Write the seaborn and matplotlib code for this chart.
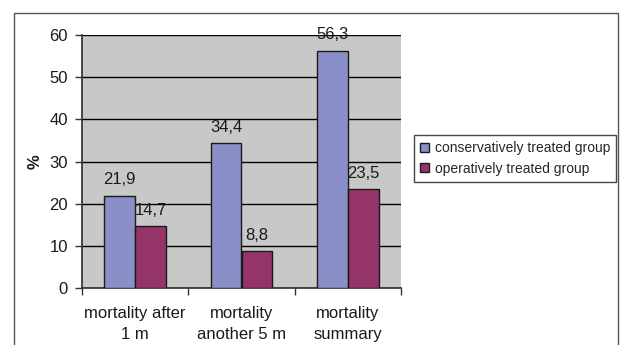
import matplotlib
matplotlib.use("Agg")
import matplotlib.pyplot as plt
from matplotlib.patches import Rectangle
import seaborn as sns
import pandas as pd

categories = ["mortality after\n1 m", "mortality\nanother 5 m", "mortality\nsummary"]
groups = ["conservatively treated group", "operatively treated group"]
conservative = [21.9, 34.4, 56.3]
operative = [14.7, 8.8, 23.5]
y_ticks = [0, 10, 20, 30, 40, 50, 60]

df = pd.DataFrame({
    "category": categories * 2,
    "group": [groups[0]] * 3 + [groups[1]] * 3,
    "value": conservative + operative,
})

sns.set_theme(style="white")
plt.rcParams["font.family"] = ["Liberation Sans", "DejaVu Sans"]

W, H = 627, 345
fig = plt.figure(figsize=(W / 100, H / 100), dpi=100)
ax = fig.add_axes([82 / W, 1 - 288 / H, (401 - 82) / W, (288 - 35) / H])

palette = {groups[0]: "#8A8FC8", groups[1]: "#943468"}
sns.barplot(data=df, x="category", y="value", hue="group", palette=palette,
            width=0.58, gap=0, edgecolor="#1a1a1a", linewidth=1.0,
            saturation=1, ax=ax, zorder=3)

ax.set_facecolor("#C8C8C8")
ax.set_ylim(0, 60)
ax.set_xlim(-0.5, 2.5)
ax.set_yticks(y_ticks)
ax.yaxis.grid(True, color="black", linewidth=1.0, zorder=1)
ax.set_axisbelow(True)
for s in ["top", "right"]:
    ax.spines[s].set_visible(False)
ax.spines["left"].set_color("#333333")
ax.spines["bottom"].set_color("#333333")

ax.tick_params(axis="y", left=True, length=5, width=1, color="#333333",
               labelsize=12, labelcolor="#1a1a1a", pad=5)
ax.set_xticks([0, 1, 2])
ax.set_xticklabels(categories, fontsize=12, color="#1a1a1a", linespacing=1.5)
ax.tick_params(axis="x", bottom=False, pad=7)
ax.set_xticks([-0.5, 0.5, 1.5, 2.5], minor=True)
ax.tick_params(axis="x", which="minor", bottom=True, length=5, width=1, color="#333333")

ax.set_xlabel("")
ax.set_ylabel("%", fontsize=12, fontweight="bold", labelpad=5, color="#1a1a1a")

for cont in ax.containers:
    ax.bar_label(cont, labels=[f"{v:.1f}".replace(".", ",") for v in cont.datavalues],
                 padding=6, fontsize=12, color="#1a1a1a")

ax.legend_.remove()
handles = [Rectangle((0, 0), 1, 1, facecolor=palette[g], edgecolor="#1a1a1a", linewidth=1) for g in groups]
leg = fig.legend(handles, groups, loc="upper left",
                 bbox_to_anchor=(414 / W, 1 - 135 / H), bbox_transform=fig.transFigure,
                 fontsize=10, frameon=True, fancybox=False, edgecolor="#1a1a1a",
                 handlelength=0.65, handleheight=0.65, handletextpad=0.4,
                 borderpad=0.45, labelspacing=0.45, borderaxespad=0)
leg.get_frame().set_linewidth(1.0)

# outer chart frame
fig.patches.append(Rectangle((14 / W, -0.1), (618 - 14) / W, 1 - 13 / H + 0.1,
                             transform=fig.transFigure, fill=False,
                             edgecolor="#555555", linewidth=1.0))

fig.savefig("out.png", dpi=100, facecolor="white")
